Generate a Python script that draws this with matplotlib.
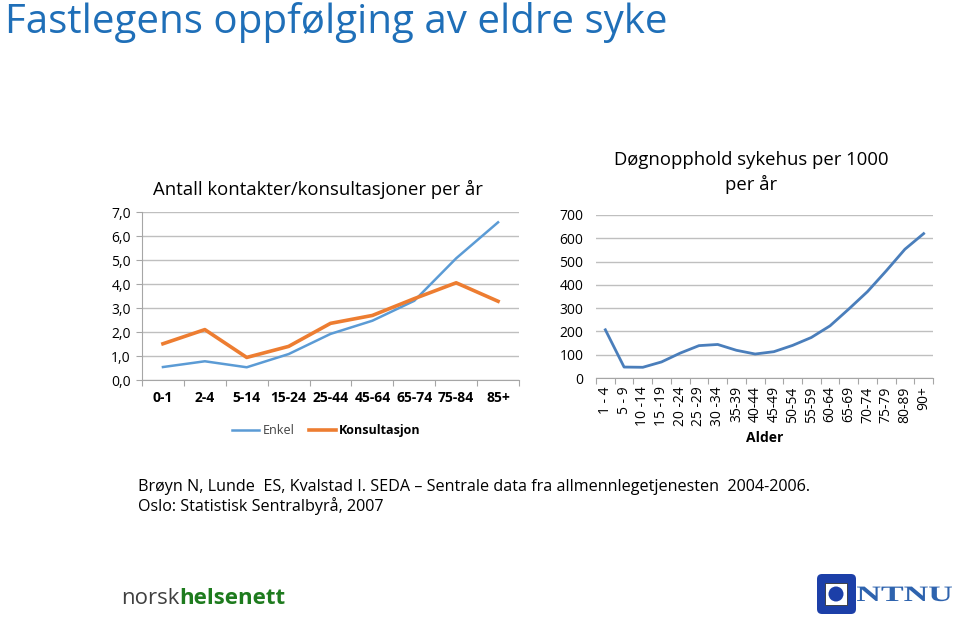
import numpy as np
import matplotlib
matplotlib.use('Agg')
import matplotlib.pyplot as plt
from matplotlib.patches import FancyBboxPatch, Rectangle, Circle, PathPatch
from matplotlib.transforms import IdentityTransform, Affine2D
from matplotlib.textpath import TextPath
from matplotlib.font_manager import FontProperties

plt.rcParams['font.family'] = ['Open Sans', 'DejaVu Sans']

# data - left chart
alder_1 = ['0-1', '2-4', '5-14', '15-24', '25-44', '45-64', '65-74', '75-84', '85+']
enkel = [0.54, 0.78, 0.53, 1.08, 1.92, 2.47, 3.30, 5.07, 6.57]
konsultasjon = [1.51, 2.10, 0.94, 1.40, 2.36, 2.69, 3.39, 4.05, 3.28]

# data - right chart
alder_2 = ['1 - 4', '5 - 9', '10 -14', '15 -19', '20 -24', '25 -29', '30 -34', '35-39',
           '40-44', '45-49', '50-54', '55-59', '60-64', '65-69', '70-74', '75-79', '80-89', '90+']
dogn = [207, 47, 46, 69, 107, 139, 144, 119, 103, 113, 140, 174, 224, 296, 371, 460, 553, 620]

W, H = 960, 618
fig = plt.figure(figsize=(9.6, 6.18), dpi=100)

def box(x0, y0, x1, y1):
    # pixel box -> figure fraction
    return [x0 / W, 1 - y1 / H, (x1 - x0) / W, (y1 - y0) / H]

grid_c = '#BFBFBF'
axis_c = '#A6A6A6'

# ---------------- left chart ----------------
ax1 = fig.add_axes(box(142, 212, 519, 380))
x1 = np.arange(len(alder_1))
ax1.plot(x1, enkel, color='#5B9BD5', lw=1.8, label='Enkel')
ax1.plot(x1, konsultasjon, color='#ED7D31', lw=2.6, label='Konsultasjon')
ax1.set_xlim(-0.5, len(alder_1) - 0.5)
ax1.set_ylim(0, 7)
ax1.set_yticks(np.arange(0, 8))
ax1.set_yticklabels([f'{v:.1f}'.replace('.', ',') for v in range(8)], fontsize=10)
ax1.set_xticks(np.arange(-0.5, len(alder_1)), labels=[])
ax1.set_xticks(x1, labels=alder_1, minor=True, fontsize=10, fontweight='bold')
ax1.tick_params(axis='x', which='major', length=4, color=axis_c)
ax1.tick_params(axis='x', which='minor', length=0, pad=8)
ax1.tick_params(axis='y', length=4, color=axis_c, pad=4)
ax1.grid(axis='y', color=grid_c, lw=1)
for s in ['top', 'right']:
    ax1.spines[s].set_visible(False)
for s in ['left', 'bottom']:
    ax1.spines[s].set_color(axis_c)
ax1.set_axisbelow(True)
ax1.set_title('Antall kontakter/konsultasjoner per år', fontsize=13.3, pad=12, x=0.468)
leg = ax1.legend(loc='upper center', bbox_to_anchor=(0.49, -0.195), ncol=2, frameon=False,
                 fontsize=9, handlelength=2.1, handletextpad=0.3, columnspacing=1.2)
leg.get_texts()[0].set_color('#404040')
leg.get_texts()[1].set_fontweight('bold')

# ---------------- right chart ----------------
ax2 = fig.add_axes(box(596, 215, 933, 378))
x2 = np.arange(len(alder_2))
ax2.plot(x2, dogn, color='#4A7EBB', lw=2)
ax2.set_xlim(-0.5, len(alder_2) - 0.5)
ax2.set_ylim(0, 700)
ax2.set_yticks(np.arange(0, 701, 100))
ax2.tick_params(axis='y', labelsize=10, length=0, pad=9)
ax2.set_xticks(np.arange(-0.5, len(alder_2)), labels=[])
ax2.set_xticks(x2, labels=alder_2, minor=True, rotation=90, fontsize=10)
ax2.tick_params(axis='x', which='major', length=4, color=axis_c)
ax2.tick_params(axis='x', which='minor', length=0, pad=6)
ax2.grid(axis='y', color=grid_c, lw=1)
for s in ['top', 'right', 'left']:
    ax2.spines[s].set_visible(False)
ax2.spines['bottom'].set_color(axis_c)
ax2.set_axisbelow(True)
ax2.set_xlabel('Alder', fontsize=10, fontweight='bold', labelpad=3)
ax2.set_title('Døgnopphold sykehus per 1000\nper år', fontsize=13.3, pad=18, linespacing=1.4,
              x=0.46)

# ---------------- texts ----------------
fig.text(5 / W, 1 - 33 / H, 'Fastlegens oppfølging av eldre syke', fontsize=29,
         color='#1F6FB8', va='baseline', ha='left')
fig.text(138 / W, 1 - 487 / H,
         'Brøyn N, Lunde  ES, Kvalstad I. SEDA – Sentrale data fra allmennlegetjenesten  2004-2006.',
         fontsize=11.65, va='center', ha='left')
fig.text(138 / W, 1 - 506 / H, 'Oslo: Statistisk Sentralbyrå, 2007',
         fontsize=11.65, va='center', ha='left')

# logos
t = fig.text(121 / W, 1 - 598 / H, 'norsk', fontsize=16, color='#404040', va='center', ha='left')
fig.canvas.draw()
bb = t.get_window_extent()
fig.text(bb.x1 / W, 1 - 598 / H, 'helsenett', fontsize=16, color='#1E7B1E',
         fontweight='bold', va='center', ha='left')

px = IdentityTransform()
fig.patches.append(FancyBboxPatch((819, H - 612), 35, 36, boxstyle='round,pad=2,rounding_size=5',
                                  transform=px, facecolor='#1C3FA8', edgecolor='none'))
fig.patches.append(Rectangle((825, H - 605), 22, 22, transform=px,
                             facecolor='white', edgecolor='#333333', lw=0.6))
fig.patches.append(Circle((836, H - 594), 7.5, transform=px,
                          facecolor='#1C3FA8', edgecolor='none'))
tp = TextPath((0, 0), 'NTNU', size=22,
              prop=FontProperties(family='Liberation Serif', weight='bold'))
ext = tp.get_extents()
sx = 95 / ext.width
fig.patches.append(PathPatch(tp, transform=Affine2D().translate(-ext.x0, 0).scale(sx, 1)
                             .translate(857, H - 601) + px,
                             facecolor='#2E63AE', edgecolor='none'))

fig.savefig('out.png', dpi=100)
